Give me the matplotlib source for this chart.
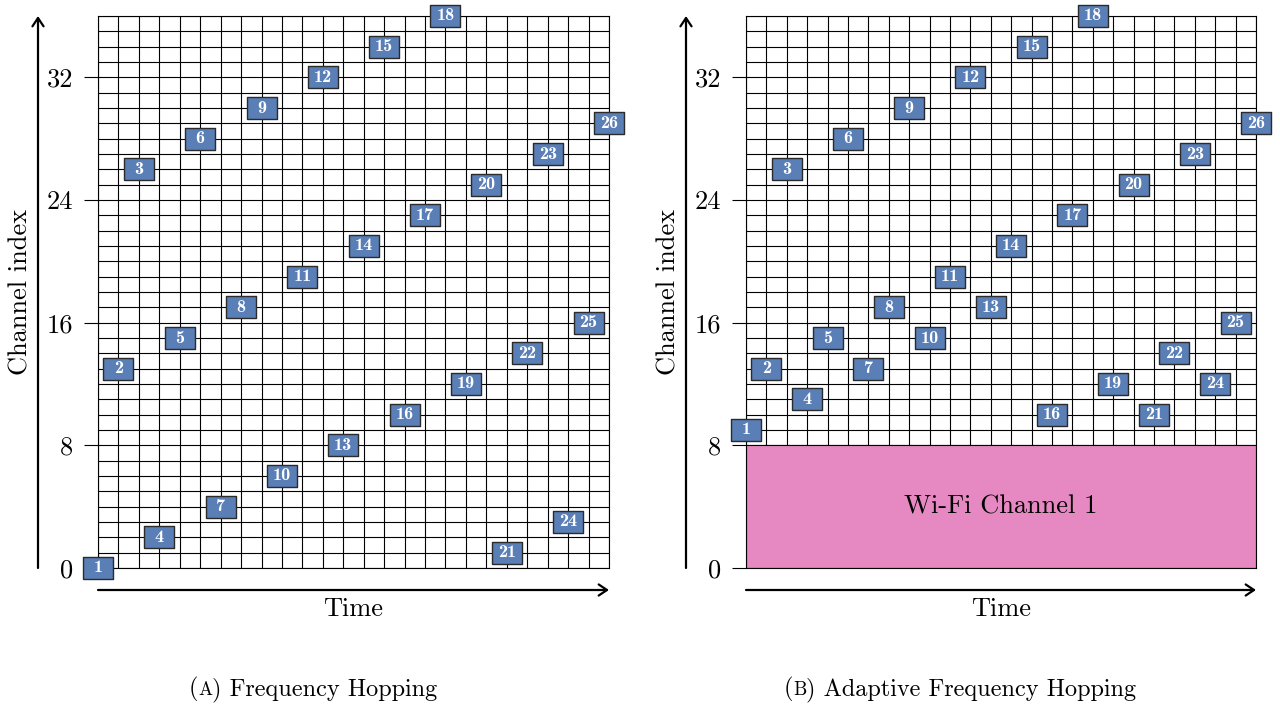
import matplotlib
matplotlib.use("Agg")
import matplotlib.pyplot as plt
from matplotlib.patches import Rectangle, FancyArrowPatch

# ---- data ----
hop_times = list(range(26))
hop_labels = [str(i + 1) for i in range(26)]
fh_channels = [0, 13, 26, 2, 15, 28, 4, 17, 30, 6, 19, 32, 8, 21, 34, 10,
               23, 36, 12, 25, 1, 14, 27, 3, 16, 29]
afh_channels = [9, 13, 26, 11, 15, 28, 13, 17, 30, 15, 19, 32, 17, 21, 34, 10,
                23, 36, 12, 25, 10, 14, 27, 12, 16, 29]
y_ticks = [0, 8, 16, 24, 32]
n_channels = 36
wifi_band = (0, 8)
wifi_label = "Wi-Fi Channel 1"
caption_letters = ["A", "B"]
caption_texts = ["Frequency Hopping", "Adaptive Frequency Hopping"]

FONT = ["cmr10", "DejaVu Serif"]
BOLD = ["cmb10", "DejaVu Serif"]
BOX = "#5A7EB6"
PINK = "#E689C2"
FS = 19

W, H = 1280, 705
fig = plt.figure(figsize=(12.8, 7.05), dpi=100)
renderer = fig.canvas.get_renderer()


def fx(px):
    return px / W


def fy(py):
    return 1 - py / H


box_marker = [(-1.4, -1.0), (1.4, -1.0), (1.4, 1.0), (-1.4, 1.0), (-1.4, -1.0)]


def caption(cx, letter, text):
    parts = [("(", 17.5), (letter, 13.5), (") " + text, 17.5)]
    widths = []
    for s, size in parts:
        t = fig.text(0, 0, s, fontfamily=FONT, fontsize=size)
        widths.append(t.get_window_extent(renderer).width)
        t.remove()
    total = sum(widths)
    x = cx - total / 2
    for (s, size), w in zip(parts, widths):
        fig.text(fx(x), fy(695), s, ha="left", va="baseline",
                 fontfamily=FONT, fontsize=size)
        x += w


def panel(x0, x1, channels, letter, text, caption_cx, wifi=False):
    ax = fig.add_axes([fx(x0), fy(568), fx(x1) - fx(x0), fy(16) - fy(568)])
    ax.set_xlim(0, len(hop_times) - 1)
    ax.set_ylim(0, n_channels)
    ax.set_xticks(hop_times, minor=True)
    ax.set_xticks([])
    ax.set_yticks(range(n_channels + 1), minor=True)
    ax.set_yticks(y_ticks)
    ax.set_yticklabels([str(t) for t in y_ticks], fontfamily=FONT, fontsize=FS)
    ax.tick_params(axis="y", which="major", length=10, width=0.8, pad=8, color="black")
    ax.tick_params(axis="y", which="minor", length=0)
    ax.tick_params(axis="x", which="both", length=0)
    ax.grid(True, which="both", color="black", lw=0.8)
    ax.set_axisbelow(True)
    for s in ax.spines.values():
        s.set_color("black")
        s.set_linewidth(0.8)
    if wifi:
        ax.add_patch(Rectangle((0, wifi_band[0]), len(hop_times) - 1,
                               wifi_band[1] - wifi_band[0], facecolor=PINK,
                               edgecolor="black", lw=0.8, zorder=2))
        ax.text((len(hop_times) - 1) / 2, (wifi_band[0] + wifi_band[1]) / 2,
                wifi_label, ha="center", va="center", fontfamily=FONT,
                fontsize=FS, zorder=3)
    ax.plot(hop_times, channels, ls="none", marker=box_marker, ms=22,
            mfc=BOX, mec="#2b2b2b", mew=1.0, clip_on=False, zorder=4)
    for t, c, lab in zip(hop_times, channels, hop_labels):
        ax.text(t, c, lab, ha="center", va="center", color="white",
                fontfamily=BOLD, fontsize=13, zorder=5, clip_on=False)

    # axis arrows
    ax_x = x0 - 60
    fig.add_artist(FancyArrowPatch(
        (fx(ax_x), fy(568)), (fx(ax_x), fy(16)), transform=fig.transFigure,
        arrowstyle="->,head_length=6,head_width=4", lw=1.6, color="black",
        mutation_scale=1, shrinkA=0, shrinkB=0))
    fig.add_artist(FancyArrowPatch(
        (fx(x0), fy(590)), (fx(x1), fy(590)), transform=fig.transFigure,
        arrowstyle="->,head_length=6,head_width=4", lw=1.6, color="black",
        mutation_scale=1, shrinkA=0, shrinkB=0))
    fig.text(fx(x0 - 77), fy(292), "Channel index", rotation=90,
             ha="center", va="center", fontfamily=FONT, fontsize=FS)
    fig.text(fx((x0 + x1) / 2), fy(609), "Time", ha="center", va="center",
             fontfamily=FONT, fontsize=FS)
    caption(caption_cx, letter, text)
    return ax


panel(98, 609, fh_channels, caption_letters[0], caption_texts[0], 313)
panel(746, 1256, afh_channels, caption_letters[1], caption_texts[1], 960, wifi=True)

fig.savefig("out.png", dpi=100)
